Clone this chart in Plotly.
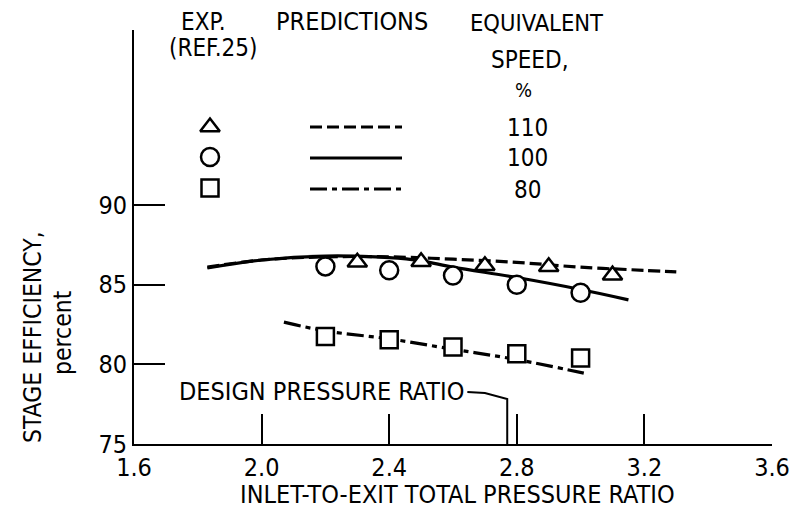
import plotly.graph_objects as go

# ---------------- data ----------------
X_TICKS = [1.6, 2.0, 2.4, 2.8, 3.2, 3.6]
X_TICK_TEXT = ["1.6", "2.0", "2.4", "2.8", "3.2", "3.6"]
Y_TICKS = [75, 80, 85, 90]
Y_TICK_TEXT = ["75", "80", "85", "90"]

SPEEDS = ["110", "100", "80"]

EXP110_X = [2.3, 2.5, 2.7, 2.9, 3.1]
EXP110_Y = [86.41, 86.44, 86.19, 86.13, 85.6]
EXP100_X = [2.2, 2.4, 2.6, 2.8, 3.0]
EXP100_Y = [86.15, 85.9, 85.57, 85.0, 84.5]
EXP80_X = [2.2, 2.4, 2.6, 2.8, 3.0]
EXP80_Y = [81.75, 81.55, 81.09, 80.67, 80.4]

PRED110_X = [1.83, 2.0, 2.2, 2.4, 2.6, 2.8, 3.0, 3.2, 3.3]
PRED110_Y = [86.1, 86.55, 86.75, 86.75, 86.6, 86.4, 86.1, 85.9, 85.8]
PRED100_X = [1.83, 2.0, 2.2, 2.4, 2.5, 2.6, 2.8, 3.0, 3.15]
PRED100_Y = [86.05, 86.55, 86.8, 86.7, 86.5, 86.1, 85.45, 84.7, 84.05]
PRED80_X = [2.07, 2.2, 2.4, 2.6, 2.8, 3.01]
PRED80_Y = [82.65, 82.1, 81.6, 80.95, 80.3, 79.45]

DESIGN_PR = 2.77

# ---------------- layout constants ----------------
W, H = 804, 510
ML, MR, MT, MB = 134, 32, 30, 66
PW, PH = W - ML - MR, H - MT - MB
FONT = "DejaVu Sans Condensed, Liberation Sans Narrow, DejaVu Sans, sans-serif"
BLACK = "black"


def fx(px):
    return (px - ML) / PW


def fy(py):
    return (H - MB - py) / PH


DASH110 = "12px,5px"
DASH80 = "17px,5px,5px,5px"

fig = go.Figure()

# prediction lines
fig.add_trace(go.Scatter(x=PRED110_X, y=PRED110_Y, mode="lines", line_shape="spline",
                         line=dict(color=BLACK, width=3.2, dash=DASH110), hoverinfo="skip"))
fig.add_trace(go.Scatter(x=PRED100_X, y=PRED100_Y, mode="lines", line_shape="spline",
                         line=dict(color=BLACK, width=3.2), hoverinfo="skip"))
fig.add_trace(go.Scatter(x=PRED80_X, y=PRED80_Y, mode="lines", line_shape="spline",
                         line=dict(color=BLACK, width=3.2, dash=DASH80), hoverinfo="skip"))

mk = dict(color="white", line=dict(color=BLACK, width=2.5))
fig.add_trace(go.Scatter(x=EXP110_X, y=EXP110_Y, mode="markers",
                         marker=dict(symbol="triangle-up", size=17, **mk)))
fig.add_trace(go.Scatter(x=EXP100_X, y=EXP100_Y, mode="markers",
                         marker=dict(symbol="circle", size=18, **mk)))
fig.add_trace(go.Scatter(x=EXP80_X, y=EXP80_Y, mode="markers",
                         marker=dict(symbol="square", size=17, **mk)))

# key symbols on overlay axis (paper-like coords)
KEY_SYMBOLS = ["triangle-up", "circle", "square"]
KEY_SIZES = [17, 18, 17]
KEY_ROW_PX = [127, 157, 188]
for sym, sz, rpx in zip(KEY_SYMBOLS, KEY_SIZES, KEY_ROW_PX):
    fig.add_trace(go.Scatter(x=[fx(210)], y=[fy(rpx)], xaxis="x2", yaxis="y2", mode="markers",
                             marker=dict(symbol=sym, size=sz, **mk), hoverinfo="skip"))

shapes = []
# key lines
for dash, rpx in zip([DASH110, "solid", DASH80], [127, 158, 189]):
    shapes.append(dict(type="line", xref="paper", yref="paper",
                       x0=fx(310), x1=fx(402), y0=fy(rpx), y1=fy(rpx),
                       line=dict(color=BLACK, width=3.2, dash=dash)))

# design pressure ratio marker + leader
shapes.append(dict(type="path", xref="x", yref="y",
                   path=f"M {DESIGN_PR},75 L {DESIGN_PR},77.82 L {DESIGN_PR - 0.07},78.2 L {DESIGN_PR - 0.125},78.27",
                   line=dict(color=BLACK, width=2)))

annotations = []


def txt(text, px, py, size=25, xanchor="center", angle=0):
    annotations.append(dict(text=text, x=fx(px), y=fy(py), xref="paper", yref="paper",
                            showarrow=False, xanchor=xanchor, yanchor="middle",
                            textangle=angle, font=dict(family=FONT, size=size, color=BLACK)))


txt("EXP.", 203, 22, size=24)
txt("(REF.25)", 213, 48, size=24)
txt("PREDICTIONS", 352, 22, size=25)
txt("EQUIVALENT", 536, 23, size=23.5)
txt("SPEED,", 530, 60, size=24)
txt("%", 523, 90, size=20)
for s, rpx in zip(SPEEDS, [128, 158, 190]):
    txt(s, 527, rpx, size=24)

annotations.append(dict(text="DESIGN PRESSURE RATIO", x=DESIGN_PR - 0.13, y=78.28, xref="x", yref="y",
                        showarrow=False, xanchor="right", yanchor="middle",
                        font=dict(family=FONT, size=25, color=BLACK)))

txt("INLET-TO-EXIT TOTAL PRESSURE RATIO", 457, 494, size=25)
txt("STAGE EFFICIENCY,", 32, 337, size=24.5, angle=-90)
txt("percent", 63, 333, size=24.5, angle=-90)

fig.update_layout(
    width=W, height=H,
    margin=dict(l=ML, r=MR, t=MT, b=MB),
    paper_bgcolor="white", plot_bgcolor="white",
    showlegend=False,
    shapes=shapes, annotations=annotations,
    font=dict(family=FONT, color=BLACK, size=24),
    xaxis=dict(range=[1.6, 3.6], tickvals=X_TICKS, ticktext=X_TICK_TEXT,
               showline=True, linecolor=BLACK, linewidth=2, mirror=False,
               ticks="inside", ticklen=30, tickwidth=2, tickcolor=BLACK,
               showgrid=False, zeroline=False, tickfont=dict(family=FONT, size=25)),
    yaxis=dict(range=[75, 75 + PH / 15.93], tickvals=Y_TICKS, ticktext=Y_TICK_TEXT,
               showline=True, linecolor=BLACK, linewidth=2,
               ticks="inside", ticklen=31, tickwidth=2, tickcolor=BLACK,
               showgrid=False, zeroline=False, tickfont=dict(family=FONT, size=25)),
    xaxis2=dict(range=[0, 1], overlaying="x", visible=False, domain=[0, 1]),
    yaxis2=dict(range=[0, 1], overlaying="y", visible=False),
)

fig.write_html("out.html")
